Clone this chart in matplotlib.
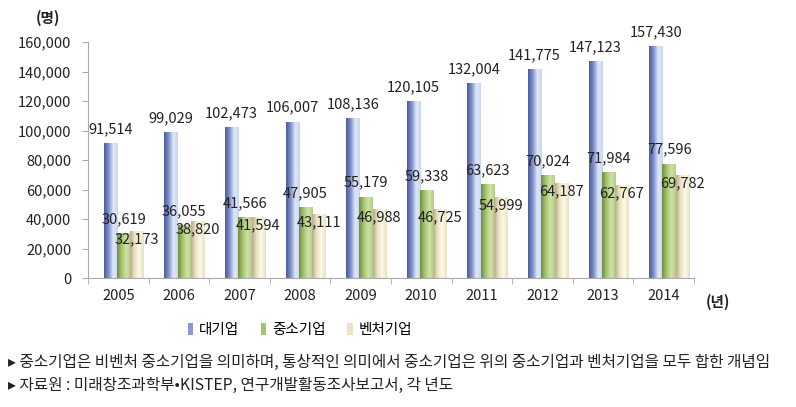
import matplotlib
matplotlib.use("Agg")
import matplotlib.pyplot as plt
import numpy as np
from matplotlib.colors import LinearSegmentedColormap
from matplotlib.patches import Patch

plt.rcParams['font.family'] = ['Noto Sans CJK KR', 'DejaVu Sans']

years = ['2005', '2006', '2007', '2008', '2009', '2010', '2011', '2012', '2013', '2014']
large = [91514, 99029, 102473, 106007, 108136, 120105, 132004, 141775, 147123, 157430]
sme = [30619, 36055, 41566, 47905, 55179, 59338, 63623, 70024, 71984, 77596]
venture = [32173, 38820, 41594, 43111, 46988, 46725, 54999, 64187, 62767, 69782]
series_names = ['대기업', '중소기업', '벤처기업']
yticks = [0, 20000, 40000, 60000, 80000, 100000, 120000, 140000, 160000]
note1 = '▸ 중소기업은 비벤처 중소기업을 의미하며, 통상적인 의미에서 중소기업은 위의 중소기업과 벤처기업을 모두 합한 개념임'
note2 = '▸ 자료원 : 미래창조과학부•KISTEP, 연구개발활동조사보고서, 각 년도'

W, H = 796, 407
fig = plt.figure(figsize=(W / 100, H / 100), dpi=100)
ax = fig.add_axes([88 / W, (H - 278) / H, 606 / W, 236 / H])

x = np.arange(len(years))
bw = 0.22
offsets = [-0.13, 0.09, 0.31]
grads = [
    LinearSegmentedColormap.from_list('b', ['#4d5c99', '#7f8fc8', '#dfe8fa', '#c9d6f0']),
    LinearSegmentedColormap.from_list('g', ['#6f8f3f', '#a5c46e', '#cfe2a6', '#b5cc88']),
    LinearSegmentedColormap.from_list('c', ['#b8ad8c', '#ebe3c4', '#fdf9e6', '#e8e0c4']),
]
label_off = [10, 10, -6]
grad_img = np.linspace(0, 1, 64).reshape(1, -1)

for k, vals in enumerate([large, sme, venture]):
    bars = ax.bar(x + offsets[k], vals, width=bw, color='none', edgecolor='none', zorder=2)
    for b, v in zip(bars, vals):
        x0, w = b.get_x(), b.get_width()
        im = ax.imshow(grad_img, cmap=grads[k], aspect='auto',
                       extent=[x0, x0 + w, 0, v], zorder=2, interpolation='bilinear')
        im.set_clip_path(b)
        ax.annotate(f'{v:,}', (x0 + w / 2, v), xytext=(0, label_off[k]),
                    textcoords='offset points', ha='center',
                    va='center', fontsize=10.5, color='#222222', zorder=5)

ax.set_xlim(-0.5, len(years) - 0.5)
ax.set_ylim(0, 160000)
ax.set_yticks(yticks)
ax.set_yticklabels([f'{t:,}' for t in yticks], fontsize=10.5, color='#222222')
ax.set_xticks(x)
ax.set_xticklabels(years, fontsize=10.5, color='#222222')
ax.set_xticks(np.arange(len(years) + 1) - 0.5, minor=True)
ax.tick_params(axis='x', which='major', length=0, pad=8)
ax.tick_params(axis='x', which='minor', length=4, color='#aaaaaa', direction='out')
ax.tick_params(axis='y', length=4, color='#aaaaaa', pad=8)
for s in ['top', 'right']:
    ax.spines[s].set_visible(False)
ax.spines['left'].set_color('#aaaaaa')
ax.spines['bottom'].set_color('#aaaaaa')

fig.text(48 / W, 1 - 18 / H, '(명)', ha='center', va='center', fontsize=10.5, fontweight='bold', color='#222222')
fig.text(718 / W, 1 - 302 / H, '(년)', ha='center', va='center', fontsize=10.5, fontweight='bold', color='#222222')

leg_cols = ['#8a9ad0', '#a5c46e', '#ebe3c4']
handles = [Patch(facecolor=c, edgecolor='none') for c in leg_cols]
fig.legend(handles, series_names, loc='center', bbox_to_anchor=(300 / W, 1 - 330 / H), ncol=3,
           frameon=False, fontsize=10.5, handlelength=0.35, handleheight=0.8, handletextpad=0.4,
           columnspacing=1.5)

fig.text(8 / W, 1 - 362 / H, note1, ha='left', va='center', fontsize=11.3, color='#222222')
fig.text(8 / W, 1 - 385 / H, note2, ha='left', va='center', fontsize=11.3, color='#222222')

fig.savefig('out.png', dpi=100)
